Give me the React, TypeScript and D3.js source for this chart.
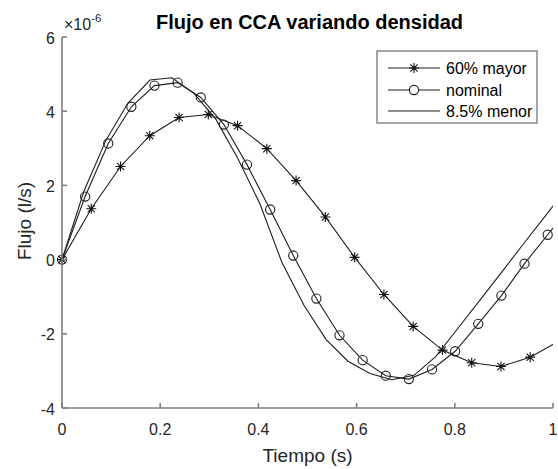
import React from "react";
import * as d3 from "d3";

// ---- data (values in units of 1e-6 l/s) ----
const xTicks = [0, 0.2, 0.4, 0.6, 0.8, 1];
const yTicks = [-4, -2, 0, 2, 4, 6];
const xTickLabels = ["0", "0.2", "0.4", "0.6", "0.8", "1"];
const yTickLabels = ["-4", "-2", "0", "2", "4", "6"];
const seriesNames = ["60% mayor", "nominal", "8.5% menor"];

const tMayor = [0, 0.0596, 0.1192, 0.1788, 0.2384, 0.298, 0.3576, 0.4172, 0.4768, 0.5364, 0.596, 0.6556, 0.7152, 0.7748, 0.8344, 0.894, 0.9536, 1.0132];
const yMayor = [0, 1.37, 2.51, 3.34, 3.83, 3.91, 3.61, 2.99, 2.13, 1.15, 0.06, -0.94, -1.8, -2.44, -2.78, -2.88, -2.63, -2.19];

const tNominal = [0, 0.0471, 0.0942, 0.1413, 0.1884, 0.2355, 0.2826, 0.3297, 0.3768, 0.4239, 0.471, 0.5181, 0.5652, 0.6123, 0.6594, 0.7065, 0.7536, 0.8007, 0.8478, 0.8949, 0.942, 0.9891, 1.0362];
const yNominal = [0, 1.7, 3.13, 4.12, 4.69, 4.77, 4.37, 3.64, 2.56, 1.35, 0.11, -1.05, -2.04, -2.71, -3.13, -3.22, -2.96, -2.47, -1.73, -0.97, -0.11, 0.67, 1.45];

const tMenor = [0, 0.0448, 0.0896, 0.1344, 0.1792, 0.224, 0.2688, 0.3136, 0.3584, 0.4032, 0.448, 0.4928, 0.5376, 0.5824, 0.6272, 0.672, 0.7168, 0.7616, 0.8064, 0.8512, 0.896, 0.9408, 0.9856, 1.0304];
const yMenor = [0, 1.85, 3.22, 4.22, 4.84, 4.9, 4.48, 3.78, 2.72, 1.5, -0.08, -1.23, -2.15, -2.74, -3.07, -3.24, -3.12, -2.61, -1.85, -1.09, -0.33, 0.44, 1.2, 1.95];

const FONT = "'Liberation Sans', Arial, Helvetica, sans-serif";

type Pt = [number, number];

function Asterisk({ cx, cy, s = 5 }: { cx: number; cy: number; s?: number }) {
  const d = s * 0.72;
  return (
    <path
      d={`M${cx - s},${cy}H${cx + s}M${cx},${cy - s}V${cy + s}M${cx - d},${cy - d}L${cx + d},${cy + d}M${cx - d},${cy + d}L${cx + d},${cy - d}`}
      stroke="#111"
      strokeWidth={1.1}
      fill="none"
    />
  );
}

export default function App() {
  const W = 558;
  const H = 469;
  const L = 62, R = 553, T = 37, B = 408;
  const x = d3.scaleLinear().domain([0, 1]).range([L, R]);
  const y = d3.scaleLinear().domain([-4, 6]).range([B, T]);
  const line = d3.line<Pt>().x((d) => x(d[0])).y((d) => y(d[1]));

  const mayor: Pt[] = tMayor.map((t, i) => [t, yMayor[i]]);
  const nominal: Pt[] = tNominal.map((t, i) => [t, yNominal[i]]);
  const menor: Pt[] = tMenor.map((t, i) => [t, yMenor[i]]);

  const lineColor = "#1e1e1e";
  const axisColor = "#7f7f7f";
  const textColor = "#262626";
  const tickLen = 5;

  const legY = [68, 90, 111];
  const legX1 = 388, legX2 = 440, legMx = 414, legTx = 446;

  return (
    <svg
      width={W}
      height={H}
      viewBox={`0 0 ${W} ${H}`}
      style={{ position: "absolute", left: 0, top: 0, background: "#fff" }}
      fontFamily={FONT}
    >
      <rect x={0} y={0} width={W} height={H} fill="#fff" />
      <defs>
        <clipPath id="plotClip">
          <rect x={L} y={T} width={R - L} height={B - T} />
        </clipPath>
      </defs>

      {/* title */}
      <text x={(L + R) / 2 + 2} y={29} textAnchor="middle" fontSize={20} fontWeight="bold" fill="#000">
        Flujo en CCA variando densidad
      </text>

      {/* exponent */}
      <text x={64} y={30} fontSize={16} fill={textColor}>
        ×10<tspan dy={-8} fontSize={11.5}>-6</tspan>
      </text>

      {/* series */}
      <g clipPath="url(#plotClip)" fill="none" stroke={lineColor} strokeWidth={1.1}>
        <path d={line(menor) || ""} />
        <path d={line(nominal) || ""} />
        <path d={line(mayor) || ""} />
      </g>
      <g>
        {nominal
          .filter((p) => p[0] <= 1)
          .map((p, i) => (
            <circle key={"c" + i} cx={x(p[0])} cy={y(p[1])} r={4.6} fill="none" stroke={lineColor} strokeWidth={1.1} />
          ))}
        {mayor
          .filter((p) => p[0] <= 1)
          .map((p, i) => (
            <Asterisk key={"s" + i} cx={x(p[0])} cy={y(p[1])} />
          ))}
      </g>

      {/* axes */}
      <g stroke={axisColor} strokeWidth={1.6} fill="none">
        <line x1={L} y1={B} x2={R} y2={B} />
        <line x1={L} y1={B} x2={L} y2={T} />
        {xTicks.map((t) => (
          <line key={"xt" + t} x1={x(t)} x2={x(t)} y1={B} y2={B - tickLen} />
        ))}
        {yTicks.map((t) => (
          <line key={"yt" + t} x1={L} x2={L + tickLen} y1={y(t)} y2={y(t)} />
        ))}
      </g>
      <g fontSize={16} fill={textColor}>
        {xTicks.map((t, i) => (
          <text key={"xl" + t} x={x(t)} y={435} textAnchor="middle">
            {xTickLabels[i]}
          </text>
        ))}
        {yTicks.map((t, i) => (
          <text key={"yl" + t} x={55} y={y(t) + 6.5} textAnchor="end">
            {yTickLabels[i]}
          </text>
        ))}
      </g>

      {/* axis labels */}
      <text x={(L + R) / 2} y={462} textAnchor="middle" fontSize={19} fill={textColor}>
        Tiempo (s)
      </text>
      <text transform={`translate(31,221) rotate(-90)`} textAnchor="middle" fontSize={19} fill={textColor}>
        Flujo (l/s)
      </text>

      {/* legend */}
      <rect x={377} y={51} width={160} height={72} fill="#fff" stroke={axisColor} strokeWidth={1.4} />
      {seriesNames.map((name, i) => (
        <g key={"lg" + i}>
          <line x1={legX1} x2={legX2} y1={legY[i]} y2={legY[i]} stroke={lineColor} strokeWidth={1.1} />
          {i === 0 && <Asterisk cx={legMx} cy={legY[i]} />}
          {i === 1 && <circle cx={legMx} cy={legY[i]} r={4.6} fill="#fff" stroke={lineColor} strokeWidth={1.1} />}
          <text x={legTx} y={legY[i] + 5.5} fontSize={16} fill="#000">
            {name}
          </text>
        </g>
      ))}
    </svg>
  );
}
